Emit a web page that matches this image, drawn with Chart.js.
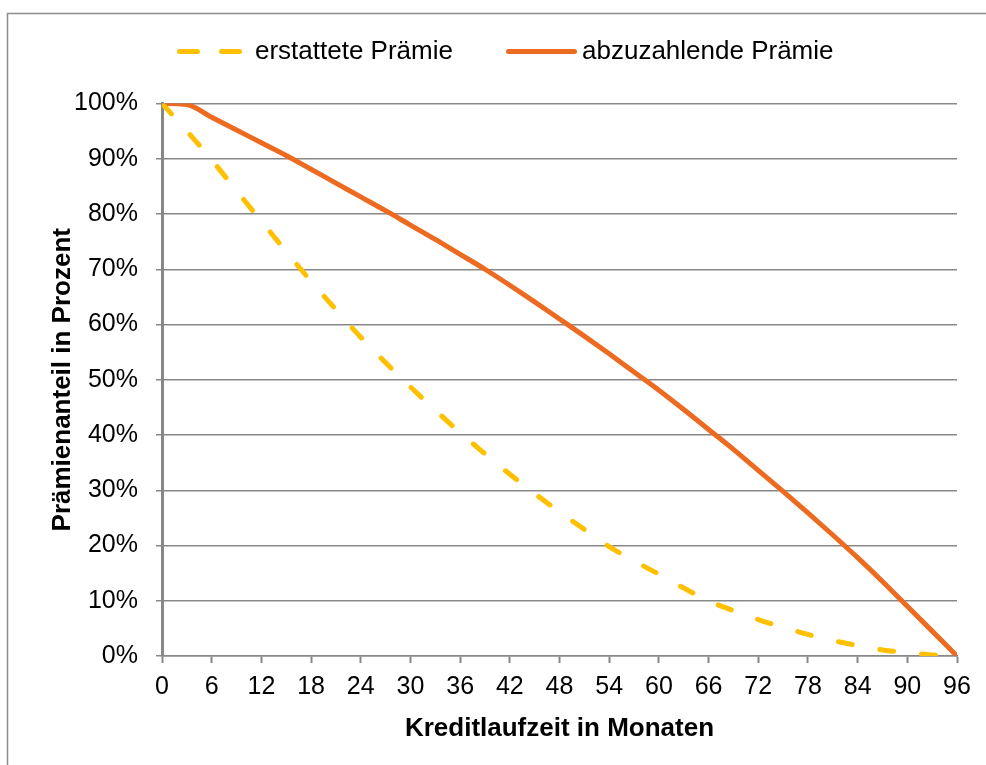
<!DOCTYPE html>
<html>
<head>
<meta charset="utf-8">
<script src="https://cdn.jsdelivr.net/npm/chart.js@4.4.0/dist/chart.umd.min.js"></script>
<style>
    html, body { margin: 0; padding: 0; background: #fff; overflow: hidden; }
    #wrap { width: 986px; height: 765px; position: relative; }
</style>
</head>
<body>
<div id="wrap"><canvas id="premiumChart"></canvas></div>
<script>
// Data (every 3 months)

const months = [0, 3, 6, 9, 12, 15, 18, 21, 24, 27, 30, 33, 36, 39, 42, 45, 48,
    51, 54, 57, 60, 63, 66, 69, 72, 75, 78, 81, 84, 87, 90, 93, 96];

const refunded = [100, 95, 89.8, 84.2, 78.7, 73.2, 67.8, 62.7, 57.7, 53.1, 48.7, 44.5, 40.4,
    36.6, 32.9, 29.4, 26.1, 22.9, 19.8, 17.2, 14.8, 12.3, 10.0, 8.2, 6.6, 5.2, 3.9,
    2.8, 1.9, 1.1, 0.6, 0.2, 0];

const payable = [100, 99.8, 97.5, 95.2, 92.9, 90.6, 88.1, 85.6, 83.1, 80.6, 78.0, 75.4, 72.7,
    70.0, 67.1, 64.1, 61.0, 57.9, 54.7, 51.4, 48.1, 44.6, 41.0, 37.4, 33.6, 29.8, 25.9,
    21.9, 17.8, 13.5, 9.0, 4.5, 0];

const seriesNames = ['erstattete Prämie', 'abzuzahlende Prämie'];
const xTitle = 'Kreditlaufzeit in Monaten';
const yTitle = 'Prämienanteil in Prozent';

const gridGray = '#888888';

Chart.defaults.font.family = "'Liberation Sans', Arial, sans-serif";
Chart.defaults.color = '#000';

// Outer frame (top and left edges are visible in the picture)

const framePlugin = {
    id: 'frame',
    beforeDraw(chart) {
        const ctx = chart.ctx;
        ctx.save();
        ctx.strokeStyle = '#8c8c8c';
        ctx.lineWidth = 1.5;
        ctx.beginPath();
        ctx.moveTo(7.5, chart.height + 2);
        ctx.lineTo(7.5, 13.5);
        ctx.lineTo(chart.width + 2, 13.5);
        ctx.stroke();
        ctx.restore();
    }
};

// Legend drawn on top, Excel style spacing

const legendPlugin = {
    id: 'topLegend',
    afterDraw(chart) {
        const ctx = chart.ctx;
        const y = 51.5;
        const items = [
            { lineStart: 179.5, lineEnd: 239.5, textX: 255, dash: [18, 24] },
            { lineStart: 508.5, lineEnd: 574.5, textX: 582, dash: [] }
        ];
        ctx.save();
        ctx.font = "26px 'Liberation Sans', Arial, sans-serif";
        ctx.textBaseline = 'middle';
        ctx.textAlign = 'left';
        items.forEach((item, i) => {
            const ds = chart.data.datasets[i];
            ctx.strokeStyle = ds.borderColor;
            ctx.lineWidth = ds.borderWidth;
            ctx.lineCap = 'round';
            ctx.setLineDash(item.dash);
            ctx.beginPath();
            ctx.moveTo(item.lineStart, y);
            ctx.lineTo(item.lineEnd, y);
            ctx.stroke();
            ctx.fillStyle = '#000';
            ctx.fillText(ds.label, item.textX, y);
        });
        ctx.restore();
    }
};

const premiumCanvas = document.getElementById('premiumChart');

let premiumData = {
    datasets: [{
        label: seriesNames[0],
        data: months.map((m, i) => ({ x: m, y: refunded[i] })),
        borderColor: '#FFC000',
        borderWidth: 5,
        borderDash: [14, 28],
        borderCapStyle: 'round',
        cubicInterpolationMode: 'monotone',
        pointRadius: 0,
        fill: false
    }, {
        label: seriesNames[1],
        data: months.map((m, i) => ({ x: m, y: payable[i] })),
        borderColor: '#ED6B21',
        borderWidth: 5,
        borderCapStyle: 'round',
        cubicInterpolationMode: 'monotone',
        pointRadius: 0,
        fill: false
    }]
};

let premiumOptions = {
    responsive: true,
    maintainAspectRatio: false,
    animation: false,
    layout: {
        padding: { top: 103.5, right: 29, bottom: 0, left: 0 }
    },
    scales: {
        x: {
            type: 'linear',
            min: 0,
            max: 96,
            afterFit: scale => { scale.height = 109; },
            ticks: {
                stepSize: 6,
                padding: 9,
                maxRotation: 0,
                font: { size: 25 }
            },
            grid: {
                drawOnChartArea: false,
                color: gridGray,
                tickLength: 7,
                tickWidth: 2
            },
            border: { color: gridGray, width: 1.5 },
            title: {
                display: true,
                text: xTitle,
                font: { size: 26, weight: 'bold' },
                padding: { top: 0, bottom: 21 }
            }
        },
        y: {
            min: 0,
            max: 100,
            afterFit: scale => { scale.width = 162; },
            ticks: {
                stepSize: 10,
                padding: 18,
                font: { size: 25 },
                callback: value => value + '%'
            },
            grid: {
                color: gridGray,
                lineWidth: 1.5,
                tickLength: 6
            },
            border: { color: gridGray, width: 3 },
            title: {
                display: true,
                text: yTitle,
                font: { size: 26, weight: 'bold' },
                padding: { top: 47, bottom: 0 }
            }
        }
    },
    plugins: {
        legend: { display: false },
        tooltip: { enabled: false }
    }
};

let premiumChart = new Chart(premiumCanvas, {
    type: 'line',
    data: premiumData,
    options: premiumOptions,
    plugins: [framePlugin, legendPlugin]
});
</script>
</body>
</html>
